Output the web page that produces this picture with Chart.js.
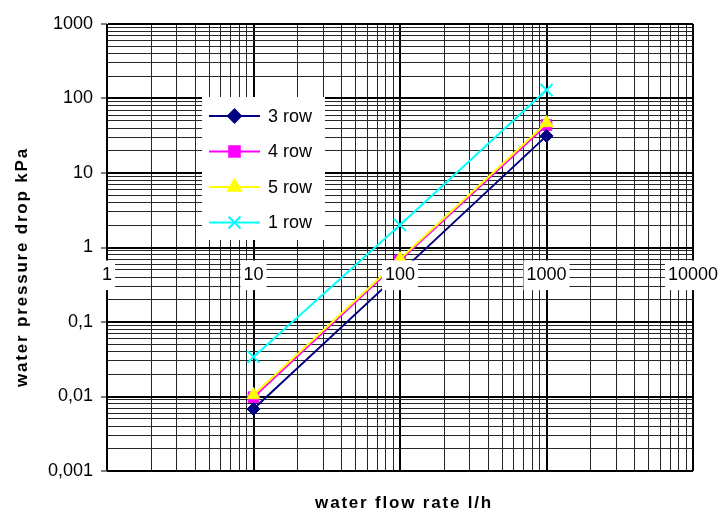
<!DOCTYPE html>
<html>
<head>
<meta charset="utf-8">
<script src="https://cdn.jsdelivr.net/npm/chart.js@4"></script>
<style>body{margin:0;background:#fff}</style>
</head>
<body>
<canvas id="myChart" width="728" height="513"></canvas>
<script>
/*global Chart*/

// values
const flowRates = [10, 100, 1000];
const row3 = [0.0068, 0.46, 31.5];
const row4 = [0.0098, 0.67, 44];
const row5 = [0.0105, 0.70, 47];
const row1 = [0.034, 2.0, 130];
const seriesNames = ['3 row', '4 row', '5 row', '1 row'];

const xDecades = [1, 10, 100, 1000, 10000];
const xTickLabels = ['1', '10', '100', '1000', '10000'];
const yDecades = [0.001, 0.01, 0.1, 1, 10, 100, 1000];
const yTickLabels = ['0,001', '0,01', '0,1', '1', '10', '100', '1000'];

const FONT = "'Liberation Sans', Arial, sans-serif";

function logTicks(decades) {
    const out = [];
    decades.forEach((d, i) => {
        if (i === decades.length - 1) { out.push(d); return; }
        for (let k = 1; k <= 9; k++) out.push(Number((d * k).toPrecision(6)));
    });
    return out;
}
const decadeIndex = (list, v) => list.findIndex(d => Math.abs(v / d - 1) < 1e-6);

const points = vals => flowRates.map((x, i) => ({x, y: vals[i]}));

const data = {
    datasets: [
        {label: seriesNames[0], data: points(row3), borderColor: '#000080', backgroundColor: '#000080',
         pointStyle: 'rectRot', pointRadius: 6.5, order: 1},
        {label: seriesNames[1], data: points(row4), borderColor: '#FF00FF', backgroundColor: '#FF00FF',
         pointStyle: 'rect', pointRadius: 7.5, order: 2},
        {label: seriesNames[2], data: points(row5), borderColor: '#FFFF00', backgroundColor: '#FFFF00',
         pointStyle: 'triangle', pointRadius: 7.5, order: 0},
        {label: seriesNames[3], data: points(row1), borderColor: '#00FFFF', backgroundColor: '#00FFFF',
         pointStyle: 'crossRot', pointRadius: 8.5, pointBorderWidth: 2, order: 3}
    ]
};

// legend box + axis titles, drawn over the plot like the original
const extras = {
    id: 'extras',
    afterDraw(chart) {
        const ctx = chart.ctx;
        ctx.save();
        ctx.fillStyle = '#fff';
        ctx.fillRect(202, 97, 123, 143);
        chart.data.datasets.forEach((ds, i) => {
            const y = 116 + i * 35.5;
            ctx.strokeStyle = ds.borderColor;
            ctx.fillStyle = ds.backgroundColor;
            ctx.lineWidth = 2;
            ctx.beginPath();
            ctx.moveTo(209, y);
            ctx.lineTo(260, y);
            ctx.stroke();
            Chart.helpers.drawPoint(ctx, {pointStyle: ds.pointStyle, radius: ds.pointRadius, rotation: 0,
                borderWidth: 2}, 234.5, y);
            ctx.fillStyle = '#000';
            ctx.font = '18px ' + FONT;
            ctx.textAlign = 'left';
            ctx.textBaseline = 'middle';
            ctx.fillText(ds.label, 268, y + 1);
        });

        ctx.fillStyle = '#000';
        ctx.font = 'bold 17px ' + FONT;
        ctx.letterSpacing = '1.8px';
        ctx.textAlign = 'center';
        ctx.textBaseline = 'alphabetic';
        ctx.fillText('water flow rate l/h', 404, 508);
        ctx.translate(27, 267);
        ctx.rotate(-Math.PI / 2);
        ctx.fillText('water pressure drop kPa', 0, 0);
        ctx.restore();
    }
};

const config = {
    type: 'line',
    data,
    options: {
        responsive: false,
        animation: false,
        layout: {padding: {left: 0, right: 35, top: 24, bottom: 42}},
        elements: {
            line: {borderWidth: 2, tension: 0},
            point: {borderWidth: 1}
        },
        plugins: {
            legend: {display: false},
            tooltip: {enabled: false}
        },
        scales: {
            x: {
                type: 'logarithmic',
                min: 1,
                max: 10000,
                position: {y: 1},
                afterBuildTicks: scale => {
                    scale.ticks = logTicks(xDecades).map(v => ({value: v, major: decadeIndex(xDecades, v) >= 0}));
                },
                afterFit: scale => {
                    scale.paddingLeft = 0;
                    scale.paddingRight = 0;
                },
                grid: {
                    drawTicks: false,
                    color: c => decadeIndex(xDecades, c.tick.value) >= 0 ? '#000' : '#262626',
                    lineWidth: c => decadeIndex(xDecades, c.tick.value) >= 0 ? 2 : 1
                },
                border: {color: '#000', width: 2},
                ticks: {
                    z: 1,
                    autoSkip: false,
                    maxRotation: 0,
                    padding: 17,
                    color: '#000',
                    font: {family: FONT, size: 18},
                    showLabelBackdrop: c => decadeIndex(xDecades, c.tick.value) >= 0,
                    backdropColor: '#fff',
                    backdropPadding: {x: 3, y: 4},
                    callback: v => {
                        const i = decadeIndex(xDecades, v);
                        return i >= 0 ? xTickLabels[i] : '';
                    }
                }
            },
            y: {
                type: 'logarithmic',
                min: 0.001,
                max: 1000,
                afterBuildTicks: scale => {
                    scale.ticks = logTicks(yDecades).map(v => ({value: v, major: decadeIndex(yDecades, v) >= 0}));
                },
                afterFit: scale => { scale.width = 107; },
                grid: {
                    tickLength: 6,
                    color: c => decadeIndex(yDecades, c.tick.value) >= 0 ? '#000' : '#262626',
                    lineWidth: c => decadeIndex(yDecades, c.tick.value) >= 0 ? 2 : 1,
                    tickColor: c => decadeIndex(yDecades, c.tick.value) >= 0 ? '#000' : 'rgba(0,0,0,0)',
                    tickWidth: 1
                },
                border: {color: '#000', width: 1},
                ticks: {
                    autoSkip: false,
                    padding: 8,
                    color: '#000',
                    font: {family: FONT, size: 18},
                    callback: v => {
                        const i = decadeIndex(yDecades, v);
                        return i >= 0 ? yTickLabels[i] : '';
                    }
                }
            }
        }
    },
    plugins: [extras]
};

/*eslint-disable no-unused-vars*/
const graphe1 = new Chart(document.getElementById('myChart'), config);
</script>
</body>
</html>
